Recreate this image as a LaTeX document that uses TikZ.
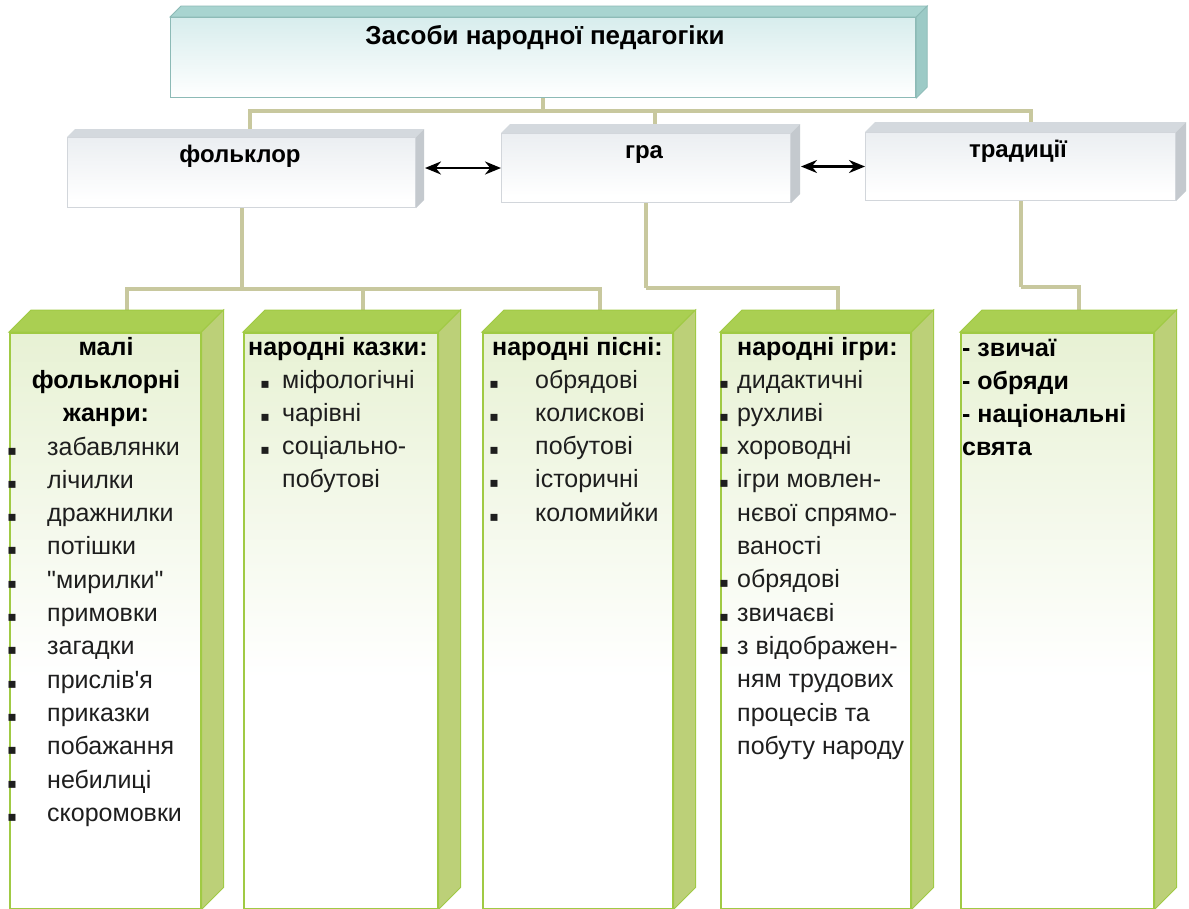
\documentclass[tikz,border=0pt]{standalone}
\usepackage{fontspec}
\setmainfont{Liberation Sans}
\newfontfamily\bulfont{DejaVu Sans}
\newcommand\straightdq{\XeTeXglyph\XeTeXcharglyph"22\relax}
\newcommand\straightsq{\XeTeXglyph\XeTeXcharglyph"27\relax}
\usetikzlibrary{calc,arrows.meta}
\pgfdeclarelayer{bg}
\pgfsetlayers{bg,main}
\definecolor{conncol}{RGB}{200,200,158}
\definecolor{gfront}{RGB}{212,230,176}
\definecolor{gtop}{RGB}{170,207,82}
\definecolor{gside}{RGB}{188,208,120}
\definecolor{gedge}{RGB}{160,202,68}
\definecolor{tfront}{RGB}{196,228,228}
\definecolor{ttop}{RGB}{168,212,208}
\definecolor{tside}{RGB}{156,202,198}
\definecolor{tedge}{RGB}{140,186,182}
\definecolor{sfront}{RGB}{224,229,234}
\definecolor{stopc}{RGB}{212,217,222}
\definecolor{sside}{RGB}{196,201,206}
\definecolor{sedge}{RGB}{210,214,219}
\definecolor{txt}{RGB}{30,30,30}
\pgfdeclareverticalshading{greenfront}{100bp}{color(0bp)=(white); color(45bp)=(white); color(100bp)=(gfront)}
\pgfdeclareverticalshading{tealfront}{100bp}{color(0bp)=(white); color(25bp)=(white); color(100bp)=(tfront)}
\pgfdeclareverticalshading{greyfront}{100bp}{color(0bp)=(white); color(30bp)=(white); color(100bp)=(sfront)}
\tikzset{
  conn/.style={draw=conncol, line width=4pt},
  arr/.style={draw=black, line width=2.5pt, {Stealth[length=16pt,width=13pt]}-{Stealth[length=16pt,width=13pt]}},
  gbox/.style={anchor=north west, inner sep=0, minimum width=#1, minimum height=576pt, shade, shading=greenfront, draw=gedge, line width=1.5pt},
  sbox/.style={anchor=north west, inner sep=0, shade, shading=greyfront, draw=sedge, line width=1pt},
  mbox/.style={anchor=north west, inner sep=0, shade, shading=tealfront, draw=tedge, line width=1.2pt},
  item/.style={font=\fontsize{25}{30}\selectfont, text=txt, inner sep=0},
  ttl/.style={font=\fontsize{25}{30}\selectfont\bfseries, text=black, inner sep=0},
  head/.style={font=\fontsize{24}{29}\selectfont\bfseries, text=black, inner sep=0},
  bul/.style={font=\bulfont\fontsize{14}{16}\selectfont, text=txt, inner sep=0, anchor=base}
}
\begin{document}
\begin{tikzpicture}[x=1pt,y=-1pt]
\useasboundingbox (0,0) rectangle (1189,908);
\begin{pgfonlayer}{bg}
\fill[white] (0,0) rectangle (1189,908);
\end{pgfonlayer}

% ---------- box nodes (front faces) ----------
\node[mbox, minimum width=745pt, minimum height=80pt] (main) at (170,17) {};
\node[sbox, minimum width=348pt, minimum height=70pt] (fol) at (67,137) {};
\node[sbox, minimum width=289pt, minimum height=69pt] (gra) at (501,133) {};
\node[sbox, minimum width=310pt, minimum height=68pt] (trad) at (865,132) {};
\node[gbox=191pt] (g1) at (9,332) {};
\node[gbox=194pt] (g2) at (243,332) {};
\node[gbox=190pt] (g3) at (482,332) {};
\node[gbox=190pt] (g4) at (720,332) {};
\node[gbox=193pt] (g5) at (960,332) {};

% back-top centres
\coordinate (fol-t) at ($(fol.north)+(8,-8)$);
\coordinate (gra-t) at ($(gra.north)+(9,-9)$);
\coordinate (trad-t) at ($(trad.north)+(10,-10)$);
\foreach \g in {g1,g2,g3,g4,g5}{\coordinate (\g-t) at ($(\g.north)+(22,-22)$);}

% ---------- connectors (behind the boxes) ----------
\begin{pgfonlayer}{bg}
\coordinate (m1) at ($(main.south)+(0,13)$);
\draw[conn] (main.south) -- (m1);
\draw[conn] (fol-t) |- (m1);
\draw[conn] (gra-t) |- (m1);
\draw[conn] (trad-t) |- (m1);
\coordinate (f1) at ($(fol.south)+(0,81)$);
\draw[conn] (fol.south) -- (f1);
\draw[conn] (g1-t) |- (f1);
\draw[conn] (g2-t) |- (f1);
\draw[conn] (g3-t) |- (f1);
\coordinate (r1) at ($(gra.south)+(0,85)$);
\draw[conn] (gra.south) -- (r1);
\draw[conn] (g4-t) |- (r1);
\coordinate (t1) at ($(trad.south)+(0,86)$);
\draw[conn] (trad.south) -- (t1);
\draw[conn] (g5-t) |- (t1);
\end{pgfonlayer}

% ---------- 3D faces ----------
\fill[ttop, draw=tedge, line width=0.8pt] (main.north west) -- ++(11,-11) -- ($(main.north east)+(11,-11)$) -- (main.north east) -- cycle;
\fill[tside, draw=tedge, line width=0.8pt] (main.north east) -- ++(11,-11) -- ($(main.south east)+(11,-11)$) -- (main.south east) -- cycle;
\fill[stopc] (fol.north west) -- ++(8,-8) -- ($(fol.north east)+(8,-8)$) -- (fol.north east) -- cycle;
\fill[sside] (fol.north east) -- ++(8,-8) -- ($(fol.south east)+(8,-8)$) -- (fol.south east) -- cycle;
\fill[stopc] (gra.north west) -- ++(9,-9) -- ($(gra.north east)+(9,-9)$) -- (gra.north east) -- cycle;
\fill[sside] (gra.north east) -- ++(9,-9) -- ($(gra.south east)+(9,-9)$) -- (gra.south east) -- cycle;
\fill[stopc] (trad.north west) -- ++(10,-10) -- ($(trad.north east)+(10,-10)$) -- (trad.north east) -- cycle;
\fill[sside] (trad.north east) -- ++(10,-10) -- ($(trad.south east)+(10,-10)$) -- (trad.south east) -- cycle;
\foreach \g in {g1,g2,g3,g4,g5}{
  \fill[gtop, draw=gedge, line width=1pt] (\g.north west) -- ++(22,-22) -- ($(\g.north east)+(22,-22)$) -- (\g.north east) -- cycle;
  \fill[gside, draw=gedge, line width=1pt] (\g.north east) -- ++(22,-22) -- ($(\g.south east)+(22,-22)$) -- (\g.south east) -- cycle;
}

% ---------- arrows ----------
\coordinate (fs) at ($(fol.east)+(9,0)$);
\coordinate (gs) at ($(gra.east)+(10,0)$);
\draw[arr] (fs |- gra.west) -- (gra.west);
\draw[arr] (gs |- trad.west) -- (trad.west);

% ---------- headings ----------
\node[head, font=\fontsize{26}{30}\selectfont\bfseries, anchor=base] (tmain) at (545,44) {Засоби народної педагогіки};
\node[head, anchor=base] (tfol) at (240,162) {фольклор};
\node[head, anchor=base] (tgra) at (644,158) {гра};
\node[head, anchor=base] (ttrad) at (1018,157) {традиції};

% ---------- column 1 ----------
\foreach \t [count=\i from 0] in {малі,фольклорні,жанри:}
  \node[ttl, anchor=base] (c1h\i) at (106,355+33.3*\i) {\t};
\foreach \t [count=\i from 0] in {забавлянки,лічилки,дражнилки,потішки,{\straightdq}мирилки{\straightdq},примовки,загадки,прислів{\straightsq}я,приказки,побажання,небилиці,скоромовки}{
  \node[item, anchor=base west] (c1i\i) at (47,455+33.3*\i) {\t};
  \node[bul] (c1b\i) at (12,455+33.3*\i) {▪};
}
% ---------- column 2 ----------
\node[ttl, anchor=base west] (c2h) at (248,355) {народні казки:};
\foreach \t [count=\i from 0] in {міфологічні,чарівні,соціально-,побутові}
  \node[item, anchor=base west] (c2i\i) at (282,388+33.3*\i) {\t};
\foreach \i in {0,1,2}
  \node[bul] (c2b\i) at (265,388+33.3*\i) {▪};
% ---------- column 3 ----------
\node[ttl, anchor=base west] (c3h) at (492,355) {народні пісні:};
\foreach \t [count=\i from 0] in {обрядові,колискові,побутові,історичні,коломийки}{
  \node[item, anchor=base west] (c3i\i) at (535,388+33.3*\i) {\t};
  \node[bul] (c3b\i) at (494,388+33.3*\i) {▪};
}
% ---------- column 4 ----------
\node[ttl, anchor=base west] (c4h) at (737,355) {народні ігри:};
\foreach \t [count=\i from 0] in {дидактичні,рухливі,хороводні,ігри мовлен-,нєвої спрямо-,ваності,обрядові,звичаєві,з відображен-,ням трудових,процесів та,побуту народу}
  \node[item, anchor=base west] (c4i\i) at (737,388+33.3*\i) {\t};
\foreach \i in {0,1,2,3,6,7,8}
  \node[bul] (c4b\i) at (724,388+33.3*\i) {▪};
% ---------- column 5 ----------
\foreach \t [count=\i from 0] in {- звичаї,- обряди,- національні,свята}
  \node[ttl, anchor=base west] (c5i\i) at (962,356+33.3*\i) {\t};
\end{tikzpicture}
\end{document}
